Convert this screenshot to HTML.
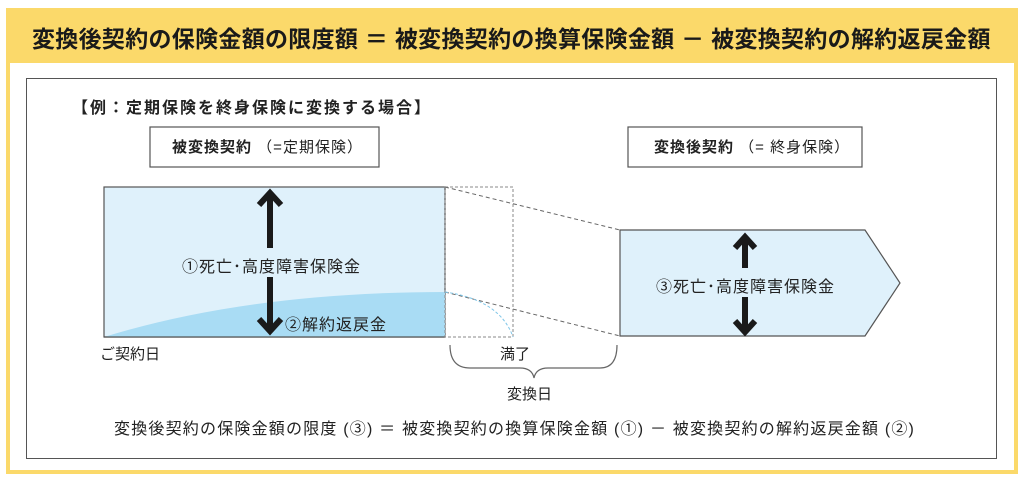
<!DOCTYPE html>
<html><head><meta charset="utf-8"><style>
body{margin:0;width:1024px;height:486px;background:#fff;overflow:hidden;font-family:"Liberation Sans","Noto Sans CJK JP",sans-serif;}
.t{position:absolute;white-space:nowrap;color:#222;}
</style></head><body>
<div style="position:absolute;left:6px;top:8px;width:1004px;height:458px;border:4px solid #fbd96a;background:#fff;"></div>
<div style="position:absolute;left:6px;top:8px;width:1012px;height:55px;background:#fbd96a;"></div>
<div class="t" style="left:32px;top:20px;font-size:23px;font-weight:bold;color:#1a1a1a;letter-spacing:0.3px;">変換後契約の保険金額の限度額 ＝ 被変換契約の換算保険金額 － 被変換契約の解約返戻金額</div>
<div style="position:absolute;left:26px;top:78px;width:969px;height:379px;border:1.5px solid #555;"></div>
<svg width="1024" height="486" style="position:absolute;left:0;top:0">
<rect x="150" y="127" width="229" height="40" fill="#fff" stroke="#555" stroke-width="1.2"/>
<rect x="628" y="127" width="234" height="40" fill="#fff" stroke="#555" stroke-width="1.2"/>
<rect x="104" y="187" width="341" height="150" fill="#dff1fb" stroke="#555" stroke-width="1.2"/>
<path d="M104 337 Q250 292 445 292 L445 337 Z" fill="#a9dcf4"/>
<line x1="104" y1="337" x2="445" y2="337" stroke="#555" stroke-width="1.2"/>
<rect x="445" y="187" width="68" height="150" fill="none" stroke="#888" stroke-width="1" stroke-dasharray="3,2"/>
<line x1="445" y1="187" x2="620" y2="230" stroke="#666" stroke-dasharray="4,3"/>
<line x1="445" y1="292" x2="620" y2="336" stroke="#666" stroke-dasharray="4,3"/>
<path d="M445 292 Q500 300 513 337" fill="none" stroke="#7fc6e8" stroke-dasharray="3,2"/>
<path d="M620 230 L865 230 L900 283 L865 336 L620 336 Z" fill="#dff1fb" stroke="#555" stroke-width="1.2"/>
<g stroke="#1a1a1a" stroke-width="6" fill="none">
<line x1="270" y1="194" x2="270" y2="248"/><polyline points="259,205 270,193 281,205"/>
<line x1="270" y1="277" x2="270" y2="330"/><polyline points="259,319 270,331 281,319"/>
<line x1="745" y1="238" x2="745" y2="268"/><polyline points="735,248 745,237 755,248"/>
<line x1="745" y1="297" x2="745" y2="331"/><polyline points="735,321 745,332 755,321"/>
</g>
<path d="M450 345 Q450 368 470 368 L520 368 Q532 368 534 378 Q536 368 548 368 L600 368 Q617 368 617 345" fill="none" stroke="#666" stroke-width="1.2"/>
</svg>
<div class="t" style="left:72px;top:94px;font-size:16px;font-weight:bold;letter-spacing:2px;">【例：定期保険を終身保険に変換する場合】</div>
<div class="t" style="left:172px;top:136px;font-size:15px;letter-spacing:1px;"><b>被変換契約</b> （=定期保険）</div>
<div class="t" style="left:654px;top:136px;font-size:15px;letter-spacing:1px;"><b>変換後契約</b> （= 終身保険）</div>
<div class="t" style="left:182px;top:253px;font-size:16px;letter-spacing:1px;">①死亡･高度障害保険金</div>
<div class="t" style="left:285px;top:311px;font-size:16px;letter-spacing:1px;">②解約返戻金</div>
<div class="t" style="left:656px;top:273px;font-size:16px;letter-spacing:1px;">③死亡･高度障害保険金</div>
<div class="t" style="left:100px;top:343px;font-size:15px;">ご契約日</div>
<div class="t" style="left:500px;top:343px;font-size:15px;">満了</div>
<div class="t" style="left:507px;top:383px;font-size:15px;">変換日</div>
<div class="t" style="left:114px;top:415px;font-size:16px;letter-spacing:1.2px;">変換後契約の保険金額の限度 (③) ＝ 被変換契約の換算保険金額 (①) － 被変換契約の解約返戻金額 (②)</div>
</body></html>
